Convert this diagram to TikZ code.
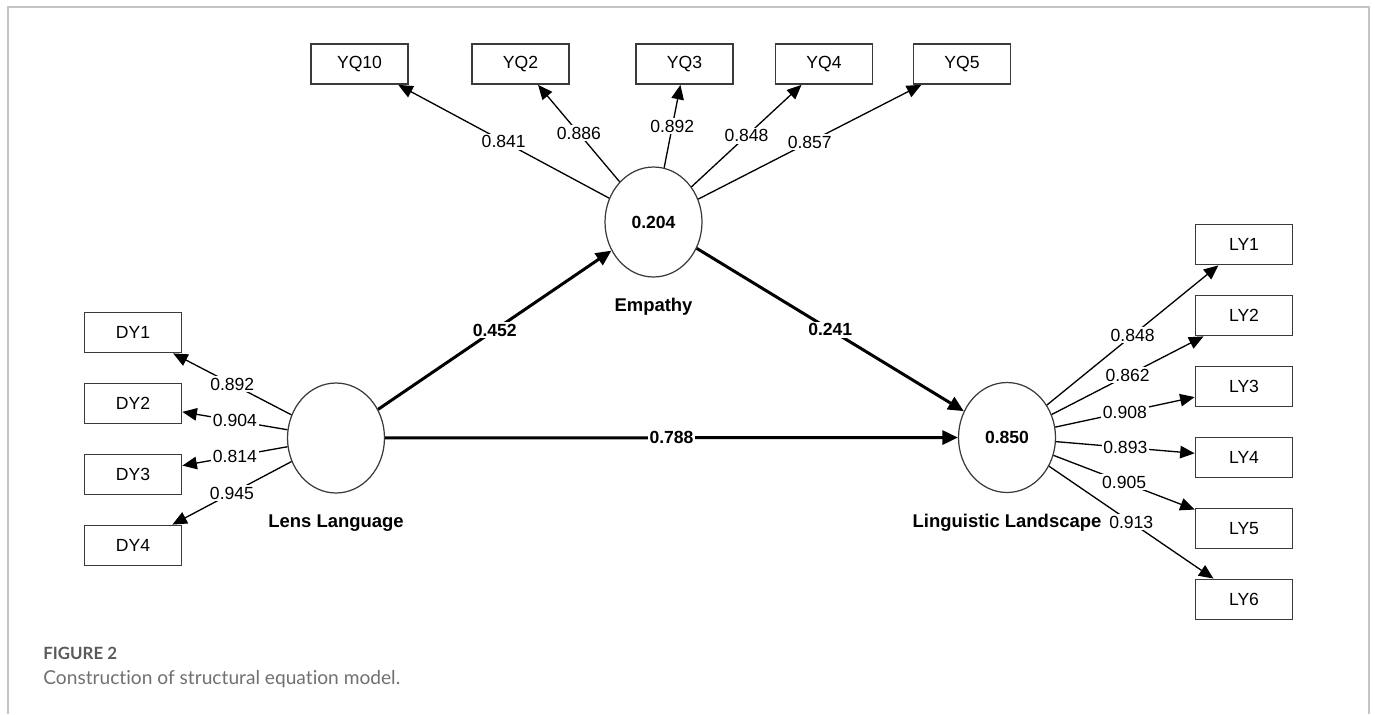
\documentclass[tikz,border=0pt]{standalone}
\usepackage{fontspec}
\setmainfont{Liberation Sans}
\newfontfamily\capfont[Ligatures={NoCommon}]{Lato}
\usetikzlibrary{arrows.meta,shapes.geometric}

\definecolor{boxgray}{HTML}{3A3A3A}
\definecolor{framegray}{HTML}{C4C4C4}
\definecolor{figgray}{HTML}{5A5A5A}
\definecolor{capgray}{HTML}{707070}

\begin{document}
\begin{tikzpicture}[x=0.02cm,y=-0.02cm,>={Triangle[length=0.29cm,width=0.25cm]},node distance=1.42cm]

            \tikzstyle{latent}=[ellipse,draw=boxgray,line width=0.7pt,minimum width=1.94cm,minimum height=2.2cm,inner sep=0pt,font=\fontsize{10}{12}\selectfont\bfseries]
            \tikzstyle{indicator}=[rectangle,draw=boxgray,line width=1pt,minimum width=1.94cm,minimum height=0.8cm,inner sep=0pt,font=\fontsize{10}{12}\selectfont]
            \tikzstyle{varname}=[font=\fontsize{10.5}{12}\selectfont\bfseries]
            \tikzstyle{loading}=[->,line width=0.75pt]
            \tikzstyle{structural}=[-{Triangle[length=0.31cm,width=0.28cm]},line width=1.7pt]
            \tikzstyle{weight}=[fill=white,inner sep=1pt,font=\fontsize{10}{12}\selectfont]
            \tikzstyle{coef}=[weight,font=\fontsize{10}{12}\selectfont\bfseries]

            \useasboundingbox (0,0) rectangle (1375,714);
            \draw[framegray,line width=0.8pt] (8,714) -- (8,7) -- (1369,7) -- (1369,714);

            % latent variables
            \node[latent] (emp)  at (653.5,222) {0.204};
            \node[latent] (lens) at (336,438)   {};
            \node[latent] (land) at (1007,437.5) {0.850};

            \node[varname,node distance=1.7cm,below of=emp]  (empname)  {Empathy};
            \node[varname,node distance=1.7cm,below of=lens] (lensname) {Lens Language};
            \node[varname,node distance=1.7cm,below of=land] (landname) {Linguistic Landscape};

            % indicators
            \node[indicator] (yq10) at (359.5,64) {YQ10};
            \node[indicator] (yq2)  at (520.5,64) {YQ2};
            \node[indicator] (yq3)  at (684.5,64) {YQ3};
            \node[indicator] (yq4)  at (824,64)   {YQ4};
            \node[indicator] (yq5)  at (962,64)   {YQ5};

            \node[indicator] (dy1) at (133,332.5) {DY1};
            \node[indicator] (dy2) [below of=dy1] {DY2};
            \node[indicator] (dy3) [below of=dy2] {DY3};
            \node[indicator] (dy4) [below of=dy3] {DY4};

            \node[indicator] (ly1) at (1244,244.5) {LY1};
            \node[indicator] (ly2) [below of=ly1] {LY2};
            \node[indicator] (ly3) [below of=ly2] {LY3};
            \node[indicator] (ly4) [below of=ly3] {LY4};
            \node[indicator] (ly5) [below of=ly4] {LY5};
            \node[indicator] (ly6) [below of=ly5] {LY6};

            % loadings
            \path (emp) edge[loading] node[weight] {0.841} (yq10)
                        edge[loading] node[weight] {0.886} (yq2)
                        edge[loading] node[weight] {0.892} (yq3)
                        edge[loading] node[weight] {0.848} (yq4)
                        edge[loading] node[weight] {0.857} (yq5);

            \path (lens) edge[loading] node[weight] {0.892} (dy1)
                         edge[loading] node[weight] {0.904} (dy2)
                         edge[loading] node[weight] {0.814} (dy3)
                         edge[loading] node[weight] {0.945} (dy4);

            \path (land) edge[loading] node[weight] {0.848} (ly1)
                         edge[loading] node[weight] {0.862} (ly2)
                         edge[loading] node[weight] {0.908} (ly3)
                         edge[loading] node[weight] {0.893} (ly4)
                         edge[loading] node[weight] {0.905} (ly5)
                         edge[loading] node[weight] {0.913} (ly6);

            % path coefficients
            \path (lens) edge[structural] node[coef] {0.452} (emp)
                         edge[structural] node[coef] {0.788} (land);
            \path (emp)  edge[structural] node[coef] {0.241} (land);

            % caption
            \node[anchor=base west,inner sep=0pt,text=figgray,font=\capfont\fontsize{9.6}{11}\selectfont\bfseries] (fignum) at (43,659) {FIGURE 2};
            \node[anchor=base west,inner sep=0pt,text=capgray,font=\capfont\fontsize{10.9}{13}\selectfont] (figcap) at (43,684) {Construction of structural equation model.};
        \end{tikzpicture}
\end{document}
